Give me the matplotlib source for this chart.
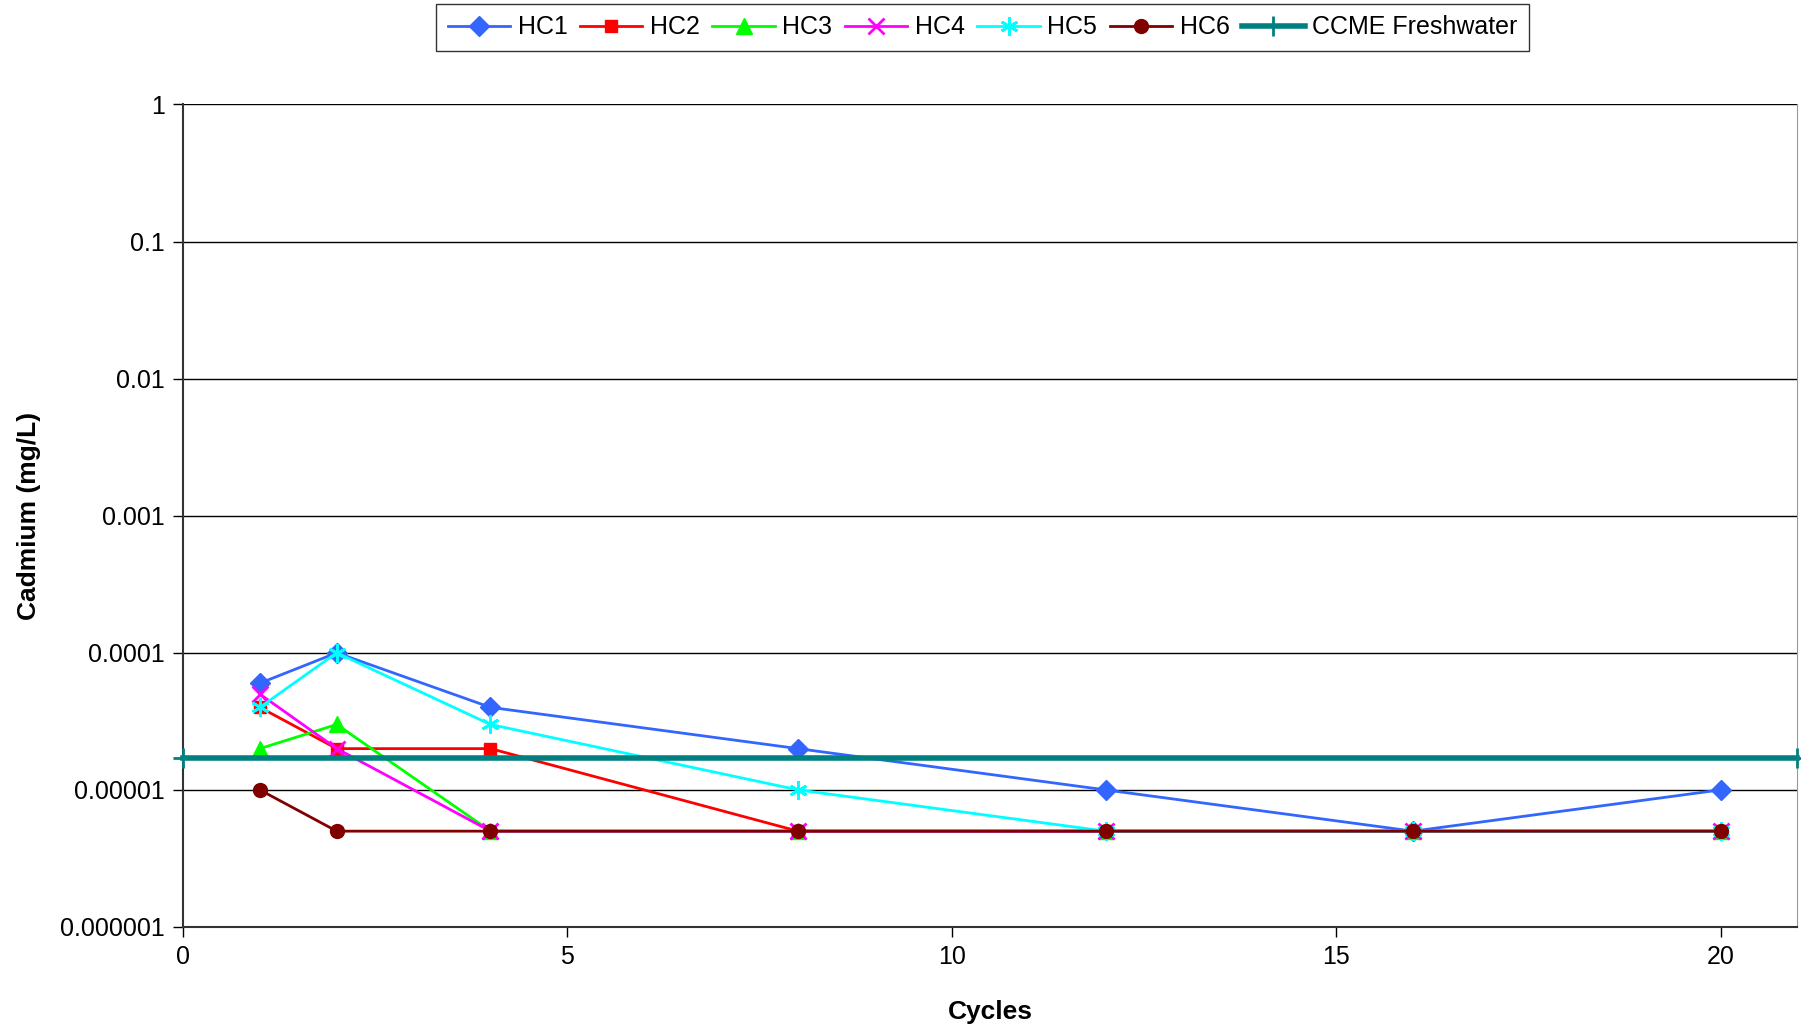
import matplotlib.pyplot as plt
from matplotlib.ticker import FixedLocator, FixedFormatter, NullLocator

plt.rcParams['font.family'] = ['Liberation Sans', 'DejaVu Sans']

# data
cycles = [1, 2, 4, 8, 12, 16, 20]
hc1 = [6e-5, 1e-4, 4e-5, 2e-5, 1e-5, 5e-6, 1e-5]
hc2 = [4e-5, 2e-5, 2e-5, 5e-6, 5e-6, 5e-6, 5e-6]
hc3 = [2e-5, 3e-5, 5e-6, 5e-6, 5e-6, 5e-6, 5e-6]
hc4 = [5e-5, 2e-5, 5e-6, 5e-6, 5e-6, 5e-6, 5e-6]
hc5 = [4e-5, 1e-4, 3e-5, 1e-5, 5e-6, 5e-6, 5e-6]
hc6 = [1e-5, 5e-6, 5e-6, 5e-6, 5e-6, 5e-6, 5e-6]
ccme_x = [0, 21]
ccme_y = [1.7e-5, 1.7e-5]

series_names = ['HC1', 'HC2', 'HC3', 'HC4', 'HC5', 'HC6']
series_vals = [hc1, hc2, hc3, hc4, hc5, hc6]
colors = ['#3366FF', '#FF0000', '#00FF00', '#FF00FF', '#00FFFF', '#800000']
markers = ['D', 's', '^', 'x', (6, 2, 0), 'o']
msizes = [10, 9, 11, 11, 13, 10]

y_ticks = [1e-6, 1e-5, 1e-4, 1e-3, 1e-2, 1e-1, 1]
y_labels = ['0.000001', '0.00001', '0.0001', '0.001', '0.01', '0.1', '1']

fig = plt.figure(figsize=(18.01, 10.34), dpi=100)
ax = fig.add_axes([0.1016, 0.1035, 0.8964, 0.7955])

for name, vals, c, m, ms in zip(series_names, series_vals, colors, markers, msizes):
    mew = 2 if m in ('x', (6, 2, 0)) else 1
    ax.plot(cycles, vals, color=c, marker=m, markersize=ms, lw=2,
            markeredgewidth=mew, label=name)

ax.plot(ccme_x, ccme_y, color='#008080', lw=4, marker='+', markersize=14,
        markeredgewidth=2, label='CCME Freshwater', clip_on=False, zorder=5)

ax.set_yscale('log')
ax.set_ylim(1e-6, 1)
ax.set_xlim(0, 21)
ax.yaxis.set_major_locator(FixedLocator(y_ticks))
ax.yaxis.set_major_formatter(FixedFormatter(y_labels))
ax.yaxis.set_minor_locator(NullLocator())
ax.set_xticks([0, 5, 10, 15, 20])

ax.grid(axis='y', color='black', lw=1)
ax.set_axisbelow(True)
ax.spines['top'].set_visible(False)
ax.spines['right'].set_color('#999999')
ax.spines['left'].set_color('#333333')
ax.spines['bottom'].set_color('#333333')
ax.spines['left'].set_linewidth(1.5)
ax.spines['bottom'].set_linewidth(1.5)
ax.tick_params(axis='both', direction='out', length=7, width=1, labelsize=18, pad=6)

ax.set_xlabel('Cycles', fontsize=19, fontweight='bold', labelpad=22)
ax.set_ylabel('Cadmium (mg/L)', fontsize=19, fontweight='bold', labelpad=14)

leg = fig.legend(loc='upper center', bbox_to_anchor=(0.5455, 0.996), ncol=7,
                 fontsize=18, frameon=True, fancybox=False, edgecolor='black',
                 handlelength=2.5, handletextpad=0.3, columnspacing=0.5,
                 borderpad=0.45, borderaxespad=0)
leg.get_frame().set_linewidth(1)

fig.savefig('out.png', dpi=100)
